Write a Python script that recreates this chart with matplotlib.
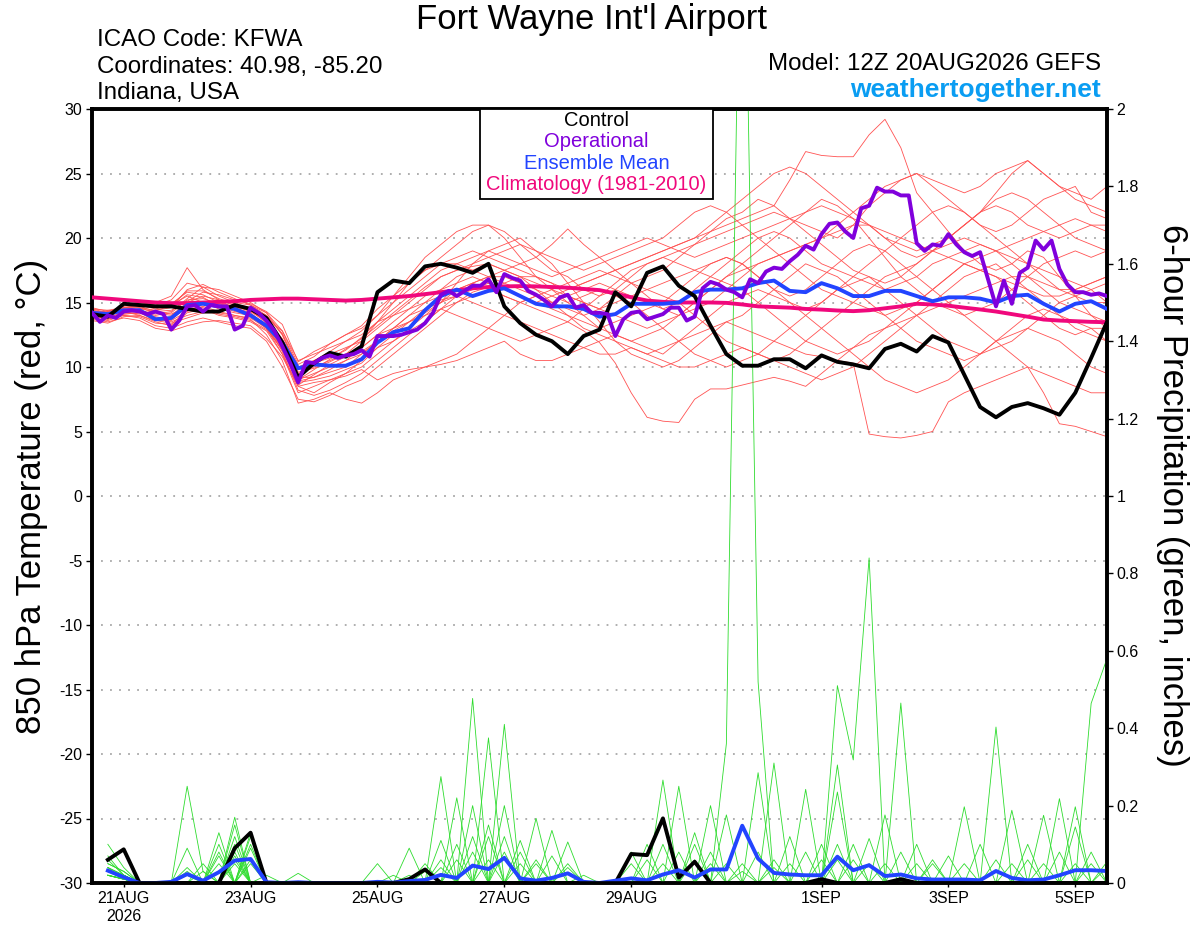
import numpy as np
import pandas as pd
import matplotlib
matplotlib.use('Agg')
import matplotlib.pyplot as plt
from matplotlib.patches import Rectangle

plt.rcParams['font.family'] = ['Liberation Sans', 'DejaVu Sans']

# GEFS run 12Z 20AUG2026: members 6-hourly, operational 3-hourly
times6 = pd.date_range('2026-08-20 12:00', periods=65, freq='6h')
times3 = pd.date_range('2026-08-20 12:00', periods=129, freq='3h')
ptimes = times6[1:]  # precip starts at +6h

tick_days = pd.to_datetime(['2026-08-21', '2026-08-23', '2026-08-25', '2026-08-27',
                            '2026-08-29', '2026-09-01', '2026-09-03', '2026-09-05'])
tick_labels = ['21AUG\n2026', '23AUG', '25AUG', '27AUG', '29AUG', '1SEP', '3SEP', '5SEP']

# 850 hPa temperature (C)
control_t = [14.1, 13.9, 14.9, 14.8, 14.7, 14.7, 14.5, 14.3, 14.3, 14.8, 14.5, 13.8, 11.9,
             9.2, 10.3, 11.1, 10.8, 11.6, 15.8, 16.7, 16.5, 17.8, 18.0, 17.7, 17.3, 18.0,
             14.7, 13.4, 12.5, 12.0, 11.0, 12.4, 12.9, 15.8, 14.7, 17.3, 17.8, 16.3, 15.5,
             13.2, 11.0, 10.1, 10.1, 10.6, 10.6, 9.9, 10.9, 10.4, 10.2, 9.9, 11.4, 11.8,
             11.2, 12.4, 11.9, 9.4, 6.9, 6.1, 6.9, 7.2, 6.8, 6.3, 8.0, 10.7, 13.5]

mean_t = [14.2, 14.1, 14.4, 14.4, 13.7, 13.8, 14.8, 14.9, 14.7, 14.5, 14.0, 13.2, 11.9,
          9.9, 10.2, 10.1, 10.1, 10.6, 11.9, 12.7, 13.0, 14.4, 15.5, 16.0, 15.5, 15.9,
          16.1, 15.5, 14.9, 14.7, 14.7, 14.5, 13.9, 14.1, 14.9, 14.9, 14.9, 15.0, 15.8,
          16.0, 16.0, 16.1, 16.5, 16.7, 15.9, 15.8, 16.5, 16.1, 15.5, 15.5, 15.9, 15.9,
          15.5, 15.1, 15.4, 15.4, 15.3, 15.0, 15.5, 15.6, 14.9, 14.3, 14.9, 15.1, 14.5]

clim_t = [15.4, 15.3, 15.2, 15.1, 15.0, 14.95, 14.95, 15.0, 15.05, 15.1, 15.2, 15.25, 15.3,
          15.3, 15.25, 15.2, 15.15, 15.2, 15.3, 15.4, 15.5, 15.65, 15.8, 15.95, 16.1, 16.2,
          16.25, 16.27, 16.25, 16.2, 16.15, 16.05, 15.96, 15.7, 15.4, 15.15, 15.05, 15.0, 15.0,
          15.0, 14.97, 14.85, 14.7, 14.65, 14.6, 14.5, 14.45, 14.38, 14.33, 14.4, 14.55, 14.7,
          14.9, 14.85, 14.75, 14.6, 14.46, 14.3, 14.1, 13.9, 13.68, 13.6, 13.55, 13.5, 13.47]

oper_t = [14.2, 13.5, 14.0, 13.8, 14.3, 14.4, 14.3, 14.1, 14.3, 14.1,
          12.9, 13.6, 14.7, 14.8, 14.3, 14.8, 14.7, 14.7, 12.9, 13.2,
          14.6, 14.2, 13.6, 12.8, 11.6, 10.3, 8.8, 10.4, 10.3, 10.7,
          10.9, 10.7, 10.9, 11.0, 11.3, 10.8, 12.4, 12.4, 12.4, 12.5,
          12.7, 12.9, 13.4, 14.2, 15.6, 15.9, 15.5, 15.9, 16.3, 16.3,
          16.8, 15.8, 17.2, 16.9, 16.7, 15.9, 15.6, 15.2, 14.7, 15.4,
          15.6, 14.6, 14.8, 14.2, 14.2, 14.1, 12.4, 13.7, 14.2, 14.3,
          13.7, 13.9, 14.1, 14.6, 14.6, 13.6, 13.9, 16.1, 16.6, 16.4,
          16.0, 15.8, 15.4, 16.8, 16.5, 17.4, 17.7, 17.6, 18.2, 18.7,
          19.4, 19.1, 20.3, 21.1, 21.2, 20.5, 20.0, 22.3, 22.5, 23.9,
          23.6, 23.6, 23.3, 23.3, 19.6, 19.0, 19.5, 19.4, 20.3, 19.5,
          18.9, 18.6, 18.9, 16.8, 14.7, 16.7, 14.9, 17.3, 17.7, 19.8,
          19.1, 19.8, 17.6, 16.4, 15.8, 15.8, 15.6, 15.7, 15.5]

members_t = [
    [14.0, 13.8, 14.3, 14.0, 13.5, 13.2, 14.2, 14.5, 14.0, 13.8, 13.5, 12.8, 11.0,
     8.5, 8.0, 8.8, 9.5, 10.0, 11.0, 12.0, 12.8, 13.5, 14.5, 15.0, 15.8, 16.2,
     15.5, 15.0, 14.5, 14.0, 13.5, 12.8, 11.9, 10.3, 8.0, 6.1, 5.8, 5.7, 7.5,
     8.3, 8.3, 8.6, 8.9, 9.2, 8.9, 8.5, 9.5, 10.5, 11.5, 12.5, 13.0, 13.5,
     14.0, 14.5, 15.0, 15.5, 16.0, 16.5, 17.0, 17.0, 16.5, 16.0, 16.0, 16.5, 17.0],
    [14.2, 14.0, 14.6, 14.8, 14.5, 14.8, 15.5, 15.0, 14.5, 14.2, 14.0, 13.0, 11.5,
     9.5, 10.0, 10.5, 11.0, 11.5, 12.5, 13.5, 14.5, 15.5, 16.0, 16.5, 17.0, 16.5,
     16.0, 15.5, 15.0, 15.5, 16.0, 16.5, 17.0, 17.5, 18.0, 18.5, 19.0, 19.5, 20.0,
     20.5, 21.0, 21.5, 22.0, 22.5, 24.5, 26.7, 26.4, 26.3, 26.3, 28.0, 29.2, 27.0,
     23.5, 22.0, 20.5, 19.0, 18.0, 17.5, 18.0, 19.0, 18.5, 17.0, 15.5, 14.0, 13.0],
    [14.5, 14.2, 14.8, 15.0, 14.8, 15.2, 16.5, 16.2, 15.5, 15.0, 14.8, 14.0, 12.5,
     10.0, 10.5, 11.0, 11.5, 12.0, 13.5, 15.0, 16.5, 17.5, 18.5, 19.5, 20.5, 21.0,
     20.5, 19.5, 18.5, 17.5, 17.0, 16.0, 15.5, 16.0, 17.0, 18.0, 18.5, 19.0, 19.5,
     20.0, 20.5, 21.0, 21.5, 22.0, 21.5, 21.0, 20.5, 20.0, 21.0, 22.5, 23.5, 24.5,
     25.0, 24.5, 24.0, 23.5, 24.0, 25.0, 25.5, 26.0, 25.0, 24.0, 23.5, 23.0, 24.0],
    [13.8, 13.6, 14.0, 13.8, 13.2, 13.0, 13.5, 13.8, 13.5, 13.2, 13.0, 12.0, 10.0,
     7.5, 7.3, 7.8, 8.5, 9.0, 10.0, 11.0, 12.0, 13.0, 14.0, 15.0, 15.5, 16.0,
     16.5, 17.0, 17.0, 16.5, 15.5, 15.0, 14.5, 15.0, 15.5, 16.0, 16.5, 17.0, 17.5,
     18.0, 18.5, 18.0, 17.0, 16.0, 15.5, 16.0, 17.0, 18.0, 19.0, 19.5, 19.0, 18.0,
     17.0, 16.0, 15.0, 14.0, 13.0, 12.0, 11.0, 10.0, 8.0, 5.6, 5.4, 5.0, 4.6],
    [14.3, 14.1, 14.5, 14.6, 14.2, 14.0, 15.0, 15.5, 15.2, 14.8, 14.3, 13.5, 12.0,
     9.0, 9.5, 10.0, 10.5, 11.0, 12.0, 13.0, 14.0, 15.0, 16.0, 17.0, 17.5, 18.0,
     17.5, 17.0, 16.0, 15.0, 14.5, 14.0, 14.5, 15.5, 16.5, 17.0, 17.5, 18.5, 19.5,
     20.5, 21.5, 22.0, 23.0, 22.5, 21.5, 20.5, 19.5, 18.5, 17.5, 17.0, 16.5, 17.0,
     18.0, 19.0, 20.0, 21.0, 22.0, 22.5, 22.0, 21.0, 20.5, 20.0, 20.5, 21.0, 21.0],
    [14.0, 14.4, 14.2, 14.5, 15.0, 15.5, 17.7, 16.0, 15.2, 14.5, 14.0, 13.0, 11.0,
     8.0, 8.5, 9.0, 9.5, 10.5, 11.5, 12.0, 13.0, 14.0, 15.0, 16.5, 18.0, 19.0,
     19.5, 20.0, 19.0, 18.0, 16.5, 15.0, 13.5, 12.0, 11.0, 10.5, 10.0, 10.5, 11.5,
     12.5, 13.5, 14.0, 15.0, 16.0, 17.0, 18.0, 17.5, 17.0, 16.0, 15.0, 14.0, 13.0,
     12.0, 11.5, 11.0, 10.5, 11.0, 12.0, 13.0, 14.0, 14.5, 14.0, 13.5, 13.0, 12.0],
    [14.1, 13.9, 14.1, 14.2, 13.8, 13.5, 14.0, 14.3, 14.4, 14.6, 14.2, 13.2, 11.5,
     8.8, 9.0, 9.3, 9.8, 10.3, 11.5, 12.5, 13.5, 14.5, 15.2, 15.5, 15.0, 14.5,
     14.0, 13.5, 13.0, 12.5, 12.0, 11.5, 11.0, 11.0, 11.5, 11.0, 10.5, 10.0, 10.0,
     10.5, 11.0, 11.5, 11.0, 10.5, 11.0, 12.0, 13.0, 14.0, 15.0, 16.0, 17.0, 17.5,
     18.0, 19.0, 19.5, 20.0, 19.5, 19.0, 18.0, 17.0, 16.0, 15.0, 14.5, 14.0, 13.5],
    [14.6, 14.3, 14.7, 14.9, 14.6, 14.9, 15.8, 15.6, 15.0, 14.7, 14.3, 13.6, 12.2,
     9.8, 10.5, 11.2, 12.0, 12.8, 14.0, 15.5, 17.0, 18.5, 19.5, 20.5, 21.0, 21.0,
     20.0, 18.5, 17.0, 16.0, 15.0, 14.0, 13.0, 12.5, 12.0, 12.5, 13.0, 14.0, 15.0,
     16.0, 17.0, 18.0, 19.0, 20.0, 21.0, 22.0, 23.0, 22.5, 21.5, 20.0, 18.5, 17.0,
     16.0, 15.0, 14.5, 14.0, 14.5, 15.0, 16.0, 17.0, 18.0, 18.5, 19.0, 18.5, 19.0],
    [13.9, 13.7, 14.2, 14.3, 13.9, 13.7, 14.6, 15.0, 14.8, 14.4, 14.0, 13.2, 11.2,
     8.2, 7.8, 8.2, 8.8, 9.5, 10.5, 11.5, 12.5, 13.5, 14.5, 15.5, 16.5, 17.0,
     17.5, 18.0, 18.5, 19.5, 20.7, 19.5, 18.5, 17.5, 16.5, 15.5, 14.5, 14.0, 14.5,
     15.0, 16.0, 17.0, 18.0, 18.5, 19.0, 19.5, 20.0, 20.5, 21.0, 21.0, 20.5, 20.0,
     19.5, 19.0, 18.5, 18.0, 17.5, 17.0, 16.5, 16.0, 15.5, 15.5, 16.0, 16.5, 17.0],
    [14.4, 14.2, 14.4, 14.3, 14.0, 14.2, 15.2, 15.3, 14.9, 14.6, 14.5, 13.8, 12.8,
     10.5, 11.0, 11.5, 12.0, 12.5, 13.5, 14.0, 14.5, 15.0, 15.5, 16.0, 16.5, 16.0,
     15.5, 15.0, 15.5, 16.0, 16.5, 17.0, 17.5, 17.0, 16.5, 16.0, 15.5, 15.0, 14.0,
     13.0, 12.0, 11.5, 11.0, 10.5, 10.0, 9.5, 9.0, 9.5, 10.0, 11.0, 12.0, 13.0,
     14.0, 15.0, 16.0, 17.0, 17.5, 18.0, 17.0, 16.0, 15.0, 14.0, 13.0, 12.5, 12.0],
    [14.0, 13.8, 14.0, 13.9, 13.4, 13.3, 14.4, 14.7, 14.3, 14.0, 13.7, 12.5, 10.5,
     7.2, 7.5, 8.0, 7.5, 7.2, 8.0, 9.0, 9.5, 10.0, 10.5, 11.0, 12.0, 13.0,
     14.0, 15.0, 15.5, 15.0, 14.0, 13.0, 12.5, 12.0, 11.5, 11.0, 11.5, 12.0, 12.5,
     13.0, 13.5, 13.0, 12.5, 12.0, 11.5, 11.0, 10.8, 10.5, 10.3, 4.8, 4.6, 4.5,
     4.7, 5.0, 7.3, 8.0, 8.5, 9.0, 9.5, 10.0, 9.5, 9.0, 8.5, 8.0, 8.0],
    [14.2, 14.0, 14.3, 14.1, 14.4, 14.6, 16.0, 16.4, 15.8, 15.3, 14.8, 14.2, 12.8,
     10.2, 10.8, 11.8, 12.5, 13.0, 14.0, 15.0, 16.0, 17.0, 18.0, 18.5, 19.0, 18.5,
     18.0, 17.5, 17.0, 16.5, 16.0, 16.5, 17.0, 17.5, 18.0, 18.5, 19.0, 19.5, 20.0,
     21.0, 22.0, 23.0, 24.0, 25.0, 25.5, 25.0, 24.0, 23.0, 22.0, 21.0, 20.0, 19.5,
     19.0, 19.5, 20.0, 21.0, 22.0, 23.0, 23.5, 23.0, 22.0, 21.0, 20.0, 19.5, 19.0],
    [13.7, 13.5, 13.8, 13.6, 13.0, 12.8, 13.2, 13.5, 13.6, 13.4, 13.2, 12.2, 10.8,
     8.5, 8.8, 9.0, 9.3, 9.8, 9.0, 9.5, 9.8, 10.0, 10.2, 10.5, 11.0, 11.5,
     12.0, 11.0, 10.5, 10.5, 11.0, 11.5, 12.0, 12.5, 12.0, 11.5, 11.0, 12.0, 13.0,
     14.0, 15.0, 15.5, 16.0, 15.5, 15.0, 14.0, 13.0, 12.0, 11.0, 10.0, 9.0, 8.5,
     8.0, 8.5, 9.0, 10.0, 11.0, 12.0, 12.5, 13.0, 12.5, 12.0, 11.0, 10.0, 9.5],
    [14.5, 14.4, 14.6, 14.7, 14.3, 14.4, 15.1, 15.8, 15.6, 15.2, 14.9, 14.3, 13.3,
     10.4, 11.2, 11.8, 12.5, 13.2, 14.5, 15.5, 16.5, 17.5, 18.0, 18.0, 17.5, 17.0,
     16.5, 16.0, 15.5, 15.0, 15.5, 16.0, 16.5, 16.0, 15.5, 15.0, 14.5, 15.0, 16.0,
     17.0, 18.0, 19.0, 20.0, 20.5, 20.0, 19.0, 18.0, 17.5, 17.0, 16.5, 16.0, 16.5,
     17.0, 18.0, 18.5, 19.0, 19.5, 19.0, 18.5, 18.0, 17.5, 17.0, 16.5, 16.0, 15.0],
    [13.6, 13.4, 13.9, 14.0, 13.6, 13.6, 14.3, 14.9, 14.9, 14.7, 14.4, 13.4, 11.8,
     9.2, 9.2, 9.8, 10.5, 11.5, 12.5, 13.0, 13.5, 14.0, 14.5, 14.0, 13.5, 13.0,
     12.5, 12.0, 12.5, 13.0, 13.5, 14.5, 15.5, 16.5, 17.5, 18.0, 18.5, 18.0, 17.5,
     17.0, 16.5, 16.0, 15.0, 14.0, 13.0, 12.0, 11.5, 11.0, 11.5, 12.0, 13.0, 14.0,
     15.0, 16.0, 17.0, 18.0, 18.5, 19.0, 19.5, 20.0, 20.5, 21.0, 21.5, 21.0, 20.5],
    [14.3, 14.0, 14.5, 14.4, 14.1, 14.3, 15.3, 16.2, 16.0, 15.5, 15.0, 14.2, 12.5,
     9.6, 9.9, 10.4, 11.0, 12.0, 13.0, 14.0, 15.0, 16.0, 17.0, 17.5, 18.0, 18.5,
     19.0, 19.5, 19.0, 18.5, 18.0, 17.5, 18.0, 18.5, 19.0, 19.5, 20.0, 21.0, 22.0,
     22.5, 22.0, 21.0, 20.0, 19.0, 18.0, 17.0, 16.0, 15.5, 15.0, 14.5, 14.0, 14.5,
     15.0, 16.0, 17.0, 18.0, 17.5, 17.0, 16.0, 15.0, 14.0, 13.0, 12.5, 13.0, 13.0],
    [13.9, 13.9, 14.4, 14.5, 14.3, 14.1, 14.7, 14.6, 14.1, 13.9, 13.6, 12.9, 11.4,
     8.9, 9.2, 9.6, 10.0, 11.0, 12.0, 13.0, 14.0, 14.5, 15.0, 15.5, 16.0, 16.5,
     16.0, 15.5, 15.0, 14.5, 14.0, 13.5, 13.0, 13.5, 14.0, 14.5, 15.0, 16.0, 17.0,
     18.0, 18.5, 18.0, 17.0, 16.0, 15.0, 14.5, 15.0, 16.0, 17.0, 18.0, 19.0, 20.0,
     21.0, 22.0, 22.5, 22.0, 21.0, 20.0, 19.0, 18.0, 17.0, 16.0, 15.5, 15.0, 15.0],
    [14.1, 14.3, 14.6, 14.6, 14.4, 14.7, 15.6, 15.4, 14.7, 14.3, 14.1, 13.3, 11.6,
     9.0, 9.8, 10.6, 11.4, 12.2, 13.2, 14.2, 15.2, 16.2, 17.0, 17.5, 17.8, 18.0,
     17.5, 17.0, 16.5, 16.0, 15.5, 15.0, 14.5, 14.0, 13.5, 13.0, 13.5, 14.0, 15.0,
     16.0, 17.0, 17.5, 18.0, 18.5, 19.0, 19.5, 20.0, 21.0, 22.0, 23.0, 24.0, 24.5,
     25.0, 24.0, 23.0, 22.0, 21.0, 20.5, 21.0, 22.0, 23.0, 23.5, 24.0, 22.0, 21.5],
    [14.0, 13.7, 14.1, 14.2, 13.6, 13.4, 13.8, 14.2, 14.2, 14.0, 13.8, 13.0, 11.3,
     8.6, 9.4, 10.2, 10.8, 11.2, 12.0, 12.8, 13.5, 14.2, 15.0, 16.0, 16.5, 17.0,
     17.0, 16.5, 16.0, 15.5, 15.0, 15.5, 16.0, 15.5, 15.0, 14.0, 13.0, 12.0, 11.0,
     10.5, 10.0, 10.5, 11.0, 12.0, 13.0, 14.0, 15.0, 16.0, 16.5, 17.0, 16.0, 15.0,
     14.0, 13.0, 12.0, 11.5, 11.0, 11.5, 12.0, 13.0, 14.0, 15.0, 15.5, 16.0, 16.5],
    [14.4, 14.1, 14.6, 14.8, 14.7, 14.8, 15.9, 15.9, 15.3, 14.9, 14.6, 14.0, 12.6,
     10.0, 10.3, 10.7, 11.3, 12.3, 13.5, 14.5, 15.5, 16.5, 17.5, 18.0, 18.5, 19.0,
     18.5, 18.0, 17.5, 17.0, 17.5, 18.0, 18.5, 19.0, 19.5, 20.0, 19.5, 19.0, 18.5,
     19.0, 19.5, 20.0, 20.5, 21.0, 21.5, 22.0, 22.5, 22.0, 21.5, 21.0, 20.0, 19.0,
     18.5, 19.0, 20.0, 21.0, 22.0, 23.5, 25.0, 26.0, 25.0, 24.0, 23.0, 22.5, 22.0],
]

# 6-hour precipitation (inches), +6h .. +384h
control_p = [.06, .087, 0, 0, 0, 0, 0, 0, .09, .13, 0, 0, 0, 0, 0, 0,
             0, 0, 0, .01, .035, 0, 0, 0, 0, 0, 0, 0, 0, 0, 0, 0,
             0, .075, .072, .167, .014, .055, 0, 0, 0, 0, 0, 0, 0, .01, 0, 0,
             0, 0, .01, 0, 0, 0, 0, 0, 0, 0, 0, 0, 0, 0, 0, 0]

mean_p = [.032, .015, 0, 0, .003, .023, .006, .028, .058, .062, .002, 0, .002, 0, 0, 0,
          0, .003, .001, .005, .008, .021, .013, .045, .036, .065, .012, .006, .013, .025, .003, 0,
          .006, .012, .007, .022, .033, .014, .035, .035, .148, .063, .026, .022, .02, .02, .068, .033,
          .046, .018, .022, .012, .009, .009, .009, .007, .031, .013, .007, .009, .02, .033, .033, .031]

members_p = [
    [.10, .04, 0, 0, 0, 0, 0, 0, .05, 0, 0, 0, 0, 0, 0, 0,
     0, 0, 0, 0, 0, 0, 0, .477, 0, 0, 0, 0, 0, 0, 0, 0,
     0, 0, 0, .05, 0, 0, 0, .36, 2.9, .52, 0, 0, 0, 0, 0, 0,
     0, 0, 0, 0, 0, 0, .05, 0, 0, 0, 0, 0, 0, 0, 0, 0],
    [.07, .02, 0, 0, 0, 0, 0, 0, .17, 0, 0, 0, 0, 0, 0, 0,
     0, 0, 0, 0, 0, .04, 0, 0, 0, 0, .05, 0, 0, 0, 0, 0,
     0, 0, .06, 0, 0, 0, 0, 0, 0, 0, .04, 0, 0, 0, .51, .318,
     .84, 0, 0, 0, 0, 0, 0, 0, 0, 0, 0, 0, 0, 0, 0, 0],
    [.05, .03, 0, 0, 0, .25, .03, 0, 0, 0, 0, 0, 0, 0, 0, 0,
     0, 0, 0, 0, 0, 0, 0, 0, .15, 0, 0, 0, 0, .106, 0, 0,
     0, 0, 0, 0, 0, 0, 0, 0, .03, 0, 0, 0, 0, 0, 0, 0,
     .05, 0, 0, 0, 0, 0, 0, 0, 0, .05, 0, 0, 0, 0, .464, .58],
    [.06, .02, 0, 0, 0, 0, 0, .13, 0, .05, 0, 0, 0, 0, 0, 0,
     0, 0, 0, 0, 0, 0, .1, 0, 0, 0, 0, 0, .07, 0, 0, 0,
     0, 0, 0, 0, .08, 0, 0, 0, 0, 0, 0, 0, .242, 0, 0, 0,
     0, 0, 0, 0, .06, 0, 0, 0, 0, 0, 0, 0, 0, 0, .05, 0],
    [.04, .01, 0, 0, 0, .09, 0, 0, 0, 0, 0, 0, 0, 0, 0, 0,
     0, .05, 0, 0, 0, 0, 0, 0, 0, .41, 0, 0, 0, 0, 0, 0,
     0, 0, 0, 0, 0, .06, 0, 0, 0, 0, 0, 0, 0, 0, .1, 0,
     0, 0, 0, 0, 0, 0, 0, 0, .403, 0, 0, 0, 0, 0, 0, 0],
    [.03, .02, 0, 0, 0, 0, .03, 0, .15, 0, 0, 0, 0, 0, 0, 0,
     0, 0, 0, 0, .05, 0, 0, 0, 0, 0, .08, 0, 0, 0, 0, 0,
     0, .08, 0, 0, 0, 0, 0, 0, 0, 0, .06, 0, 0, 0, 0, 0,
     0, .176, 0, 0, 0, 0, 0, 0, 0, 0, 0, 0, 0, .05, 0, 0],
    [.02, .01, 0, 0, 0, .04, 0, 0, 0, .13, 0, 0, 0, 0, 0, 0,
     0, 0, 0, 0, 0, 0, 0, .2, 0, 0, 0, 0, 0, 0, 0, 0,
     0, 0, 0, .266, 0, 0, 0, 0, 0, .08, 0, 0, 0, 0, 0, 0,
     0, 0, 0, .1, 0, 0, 0, 0, 0, 0, 0, 0, 0, 0, 0, 0],
    [.03, .02, 0, 0, 0, 0, 0, .1, 0, 0, 0, 0, 0, 0, 0, 0,
     0, 0, 0, 0, 0, .275, 0, 0, 0, 0, 0, 0, 0, 0, .02, 0,
     0, 0, 0, 0, 0, 0, .05, 0, 0, 0, 0, 0, 0, 0, .305, 0,
     0, 0, 0, 0, 0, 0, 0, 0, 0, 0, .06, 0, 0, 0, 0, 0],
    [.02, .01, 0, 0, 0, .03, 0, 0, 0, .12, 0, 0, 0, 0, 0, 0,
     0, 0, 0, 0, 0, 0, 0, 0, .375, 0, 0, 0, 0, 0, 0, 0,
     0, 0, 0, 0, 0, 0, 0, 0, .05, 0, 0, 0, 0, 0, .06, 0,
     0, 0, .465, 0, 0, 0, 0, 0, 0, 0, 0, 0, 0, 0, 0, .055],
    [.05, .03, 0, 0, 0, 0, 0, .08, 0, 0, 0, 0, 0, 0, 0, 0,
     0, 0, 0, .09, 0, 0, 0, 0, 0, .2, 0, 0, 0, 0, 0, 0,
     0, 0, 0, 0, .25, 0, 0, 0, 0, 0, 0, .05, 0, 0, 0, 0,
     0, 0, 0, 0, .05, 0, 0, 0, 0, 0, 0, 0, 0, 0, 0, .04],
    [.02, .01, 0, 0, 0, .02, 0, 0, .12, 0, 0, 0, 0, 0, 0, 0,
     0, 0, 0, 0, 0, .11, 0, 0, 0, 0, 0, .167, 0, 0, 0, 0,
     0, 0, 0, 0, 0, 0, .2, 0, 0, 0, 0, 0, 0, 0, 0, .1,
     0, 0, 0, 0, 0, .07, 0, 0, 0, 0, 0, 0, 0, .145, 0, 0],
    [.03, .02, 0, 0, 0, 0, .05, 0, .1, 0, 0, 0, 0, 0, 0, 0,
     0, 0, 0, .02, 0, 0, 0, 0, 0, .12, 0, 0, 0, 0, 0, 0,
     0, 0, .1, 0, 0, 0, 0, 0, 0, 0, 0, 0, .08, 0, 0, 0,
     0, 0, 0, 0, 0, 0, 0, .1, 0, 0, 0, 0, 0, 0, .08, 0],
    [.04, .02, 0, 0, 0, 0, 0, .07, 0, .09, 0, 0, 0, 0, 0, 0,
     0, 0, 0, 0, 0, 0, .22, 0, 0, 0, 0, 0, .136, 0, 0, 0,
     0, 0, 0, 0, 0, 0, 0, 0, 0, .285, 0, 0, 0, 0, 0, 0,
     0, .05, 0, 0, 0, 0, 0, 0, 0, 0, 0, 0, .08, 0, 0, 0],
    [.02, .01, 0, 0, 0, 0, 0, 0, .08, 0, 0, 0, 0, 0, 0, 0,
     0, 0, 0, 0, .03, 0, 0, 0, .12, 0, 0, 0, 0, 0, 0, 0,
     0, .05, 0, 0, 0, 0, 0, .05, 0, 0, 0, 0, 0, 0, .235, 0,
     0, 0, 0, 0, 0, 0, 0, 0, 0, 0, .1, 0, 0, 0, 0, 0],
    [.03, .02, 0, 0, 0, 0, 0, .05, 0, 0, .02, 0, 0, 0, 0, 0,
     0, 0, 0, 0, 0, .06, 0, 0, 0, 0, 0, .06, 0, 0, 0, 0,
     0, 0, 0, 0, 0, 0, .08, 0, 0, 0, 0, 0, 0, .1, 0, 0,
     0, 0, 0, 0, 0, 0, 0, 0, 0, 0, 0, .175, 0, 0, 0, 0],
    [.02, .01, 0, 0, 0, 0, 0, 0, .07, 0, 0, 0, 0, 0, 0, 0,
     0, 0, .02, 0, 0, 0, .06, 0, 0, 0, 0, .05, 0, 0, 0, 0,
     0, 0, 0, 0, 0, .1, 0, 0, 0, 0, 0, 0, 0, 0, 0, .06,
     0, 0, 0, 0, 0, 0, .197, 0, 0, 0, 0, 0, 0, 0, 0, 0],
    [.03, .02, 0, 0, 0, 0, 0, 0, 0, .1, 0, 0, 0, 0, 0, 0,
     0, 0, 0, 0, 0, 0, 0, 0, .06, 0, 0, 0, 0, .05, 0, 0,
     0, 0, 0, 0, 0, 0, 0, 0, 0, 0, .31, 0, 0, 0, 0, 0,
     0, 0, 0, .05, 0, 0, 0, 0, 0, 0, 0, 0, .218, 0, 0, 0],
    [.04, .02, 0, 0, 0, 0, 0, 0, .06, 0, 0, 0, .025, 0, 0, 0,
     0, 0, 0, 0, 0, 0, 0, 0, 0, .08, 0, 0, 0, 0, 0, 0,
     0, 0, 0, 0, 0, 0, 0, .176, 0, 0, 0, 0, 0, 0, 0, 0,
     .115, 0, 0, 0, 0, 0, 0, 0, .06, 0, 0, 0, 0, 0, 0, 0],
    [.02, .01, 0, 0, 0, 0, 0, 0, 0, .06, 0, 0, 0, 0, 0, 0,
     0, 0, 0, 0, 0, 0, 0, .08, 0, 0, 0, 0, 0, .04, 0, 0,
     0, 0, 0, .1, 0, 0, 0, 0, 0, 0, 0, .12, 0, 0, 0, 0,
     0, 0, 0, 0, 0, 0, 0, 0, 0, .188, 0, 0, 0, 0, 0, 0],
    [.03, .01, 0, 0, 0, 0, 0, 0, 0, 0, 0, 0, 0, 0, 0, 0,
     0, 0, 0, 0, 0, 0, 0, .12, 0, 0, .11, 0, 0, 0, 0, 0,
     0, 0, 0, 0, 0, .13, 0, 0, 0, 0, 0, 0, 0, .06, 0, 0,
     0, 0, .08, 0, 0, 0, 0, 0, 0, 0, 0, .05, 0, .197, 0, 0],
]

RED = '#ff5252'
GREEN = '#2edc2e'
PURPLE = '#8000dc'
BLUE = '#2244ff'
MAGENTA = '#f0087c'

fig = plt.figure(figsize=(12, 9.27), dpi=100)
ax = fig.add_axes([92 / 1200, 1 - 883 / 927, 1015 / 1200, 774 / 927])

# temperature ensemble members
for m in members_t:
    ax.plot(times6, m, color=RED, lw=0.6)

ax.set_xlim(times6[0], times6[-1])
ax.set_ylim(-30, 30)
ax.set_yticks(np.arange(-30, 31, 5))
ax.set_yticklabels([str(v) for v in range(-30, 31, 5)])
ax.grid(axis='y', color='#a8a8a8', linestyle=(0, (1, 4)), lw=1.3)
ax.set_xticks(tick_days)
ax.set_xticklabels(tick_labels)
ax.tick_params(axis='x', direction='out', length=3, width=1, labelsize=11.5, pad=3)
ax.tick_params(axis='y', direction='out', length=4, width=1, labelsize=11.5, pad=3)
for s in ax.spines.values():
    s.set_linewidth(2.6)

# precipitation on right axis
ax2 = ax.twinx()
for m in members_p:
    ax2.plot(ptimes, m, color=GREEN, lw=0.6)
ax2.plot(ptimes, control_p, color='black', lw=2.8)
ax2.plot(ptimes, mean_p, color=BLUE, lw=2.8)
ax2.set_ylim(0, 2)
ax2.set_yticks(np.arange(0, 2.01, 0.2))
ax2.set_yticklabels(['0', '0.2', '0.4', '0.6', '0.8', '1', '1.2', '1.4', '1.6', '1.8', '2'])
ax2.tick_params(axis='y', direction='out', length=4, width=1, labelsize=11.5, pad=3)
for s in ax2.spines.values():
    s.set_linewidth(2.6)

# thick temperature lines on top
ax3 = ax.twinx()
ax3.set_ylim(-30, 30)
ax3.axis('off')
ax3.plot(times6, clim_t, color=MAGENTA, lw=2.8)
ax3.plot(times6, mean_t, color=BLUE, lw=2.8)
ax3.plot(times6, control_t, color='black', lw=2.8)
ax3.plot(times3, oper_t, color=PURPLE, lw=2.8)

# legend box
ax3.add_patch(Rectangle((0.3823, 0.8837), 0.2296, 0.1163, transform=ax3.transAxes,
                        facecolor='white', edgecolor='black', lw=1.3, zorder=10))
leg_items = [('Control', 'black', 0.9845), ('Operational', PURPLE, 0.9574),
             ('Ensemble Mean', BLUE, 0.9302), ('Climatology (1981-2010)', MAGENTA, 0.9030)]
for txt, col, yy in leg_items:
    ax3.text(0.497, yy, txt, color=col, fontsize=14.5, ha='center', va='center',
             transform=ax3.transAxes, zorder=11)

# header and axis titles
fig.text(591 / 1200, 1 - 19 / 927, "Fort Wayne Int'l Airport", ha='center', va='center', fontsize=25)
fig.text(97 / 1200, 1 - 46.5 / 927, 'ICAO Code: KFWA', ha='left', va='baseline', fontsize=17.4)
fig.text(97 / 1200, 1 - 73 / 927, 'Coordinates: 40.98, -85.20', ha='left', va='baseline', fontsize=17.4)
fig.text(97 / 1200, 1 - 98.5 / 927, 'Indiana, USA', ha='left', va='baseline', fontsize=17.4)
fig.text(1101 / 1200, 1 - 70.5 / 927, 'Model: 12Z 20AUG2026 GEFS', ha='right', va='baseline', fontsize=17.4)
fig.text(1101 / 1200, 1 - 97 / 927, 'weathertogether.net', ha='right', va='baseline',
         fontsize=19, fontweight='bold', color='#0a9df2')
fig.text(32 / 1200, 1 - 496 / 927, '850 hPa Temperature (red, °C)', rotation=90,
         ha='center', va='center', fontsize=25)
fig.text(1172 / 1200, 1 - 495 / 927, '6-hour Precipitation (green, inches)', rotation=-90,
         ha='center', va='center', fontsize=25)

fig.savefig('out.png', dpi=100)
